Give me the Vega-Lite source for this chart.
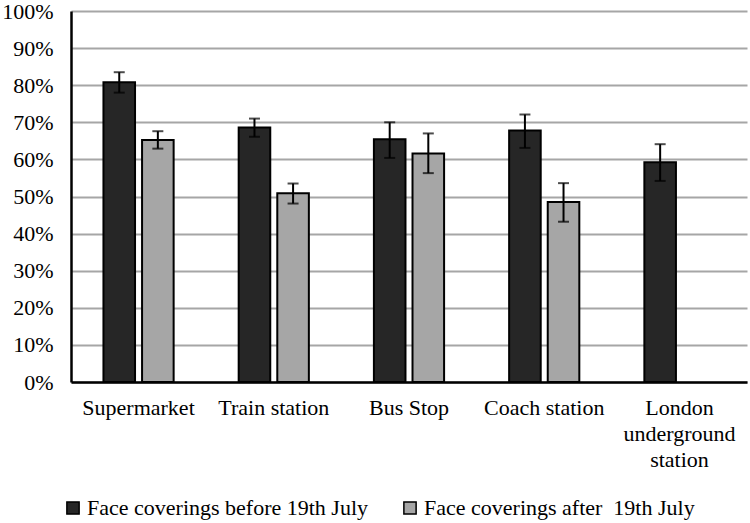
{
  "$schema": "https://vega.github.io/schema/vega-lite/v6.json",
  "autosize": {"type": "none"},
  "width": 676,
  "height": 371,
  "padding": {"left": 71, "top": 11, "right": 3, "bottom": 141},
  "background": "white",
  "config": {
    "font": "Liberation Serif",
    "view": {"stroke": null},
    "axis": {"labelFont": "Liberation Serif", "labelFontSize": 22, "labelColor": "black"},
    "axisY": {
      "labelOverlap": false,
      "ticks": false,
      "labelPadding": 18,
      "domainColor": "black",
      "domainWidth": 2.5,
      "gridColor": "#a6a6a6",
      "gridWidth": 2,
      "gridOpacity": 1
    },
    "legend": {"labelFont": "Liberation Serif", "labelFontSize": 22, "labelColor": "black"}
  },
  "data": {
    "values": [
      {"place": "Supermarket", "period": "Face coverings before 19th July", "value": 0.808, "lo": 0.780, "hi": 0.835},
      {"place": "Supermarket", "period": "Face coverings after\u00a0 19th July", "value": 0.652, "lo": 0.629, "hi": 0.676},
      {"place": "Train station", "period": "Face coverings before 19th July", "value": 0.686, "lo": 0.661, "hi": 0.710},
      {"place": "Train station", "period": "Face coverings after\u00a0 19th July", "value": 0.509, "lo": 0.481, "hi": 0.535},
      {"place": "Bus Stop", "period": "Face coverings before 19th July", "value": 0.654, "lo": 0.604, "hi": 0.700},
      {"place": "Bus Stop", "period": "Face coverings after\u00a0 19th July", "value": 0.616, "lo": 0.563, "hi": 0.670},
      {"place": "Coach station", "period": "Face coverings before 19th July", "value": 0.678, "lo": 0.631, "hi": 0.721},
      {"place": "Coach station", "period": "Face coverings after\u00a0 19th July", "value": 0.485, "lo": 0.432, "hi": 0.536},
      {"place": "London underground station", "period": "Face coverings before 19th July", "value": 0.592, "lo": 0.542, "hi": 0.641}
    ]
  },
  "encoding": {
    "x": {
      "field": "place",
      "type": "nominal",
      "sort": ["Supermarket", "Train station", "Bus Stop", "Coach station", "London underground station"],
      "scale": {"paddingInner": 0.481, "paddingOuter": 0.24},
      "axis": {
        "title": null,
        "labelAngle": 0,
        "ticks": false,
        "domainColor": "black",
        "domainWidth": 2.5,
        "labelPadding": 15,
        "labelLineHeight": 26,
        "labelBaseline": "top",
        "labelLimit": 300,
        "labelOverlap": false,
        "labelExpr": "datum.value == 'London underground station' ? ['London', 'underground', 'station'] : datum.value"
      }
    },
    "xOffset": {
      "field": "period",
      "type": "nominal",
      "scale": {"domain": ["Face coverings before 19th July", "Face coverings after\u00a0 19th July"], "paddingInner": 0.182, "paddingOuter": 0}
    }
  },
  "layer": [
    {
      "mark": {"type": "bar", "stroke": "black", "strokeWidth": 2},
      "encoding": {
        "y": {
          "field": "value",
          "type": "quantitative",
          "scale": {"domain": [0, 1], "nice": false},
          "axis": {"title": null, "values": [0, 0.1, 0.2, 0.3, 0.4, 0.5, 0.6, 0.7, 0.8, 0.9, 1], "format": ".0%"}
        },
        "color": {
          "field": "period",
          "type": "nominal",
          "scale": {"domain": ["Face coverings before 19th July", "Face coverings after\u00a0 19th July"], "range": ["#262626", "#a6a6a6"]},
          "legend": {
            "title": null,
            "orient": "none",
            "direction": "horizontal",
            "legendX": -9,
            "legendY": 486,
            "symbolType": "square",
            "symbolSize": 150,
            "symbolStrokeColor": "black",
            "symbolStrokeWidth": 1.5,
            "symbolOpacity": 1,
            "labelOffset": 3,
            "labelLimit": 400,
            "columnPadding": 30
          }
        }
      }
    },
    {
      "mark": {"type": "rule", "color": "black", "strokeWidth": 2},
      "encoding": {
        "y": {"field": "lo", "type": "quantitative", "axis": {"title": null, "values": [0, 0.1, 0.2, 0.3, 0.4, 0.5, 0.6, 0.7, 0.8, 0.9, 1], "format": ".0%"}},
        "y2": {"field": "hi"}
      }
    },
    {
      "mark": {"type": "tick", "color": "black", "thickness": 2, "size": 11, "orient": "horizontal"},
      "encoding": {"y": {"field": "lo", "type": "quantitative", "axis": {"title": null, "values": [0, 0.1, 0.2, 0.3, 0.4, 0.5, 0.6, 0.7, 0.8, 0.9, 1], "format": ".0%"}}}
    },
    {
      "mark": {"type": "tick", "color": "black", "thickness": 2, "size": 11, "orient": "horizontal"},
      "encoding": {"y": {"field": "hi", "type": "quantitative", "axis": {"title": null, "values": [0, 0.1, 0.2, 0.3, 0.4, 0.5, 0.6, 0.7, 0.8, 0.9, 1], "format": ".0%"}}}
    }
  ]
}
